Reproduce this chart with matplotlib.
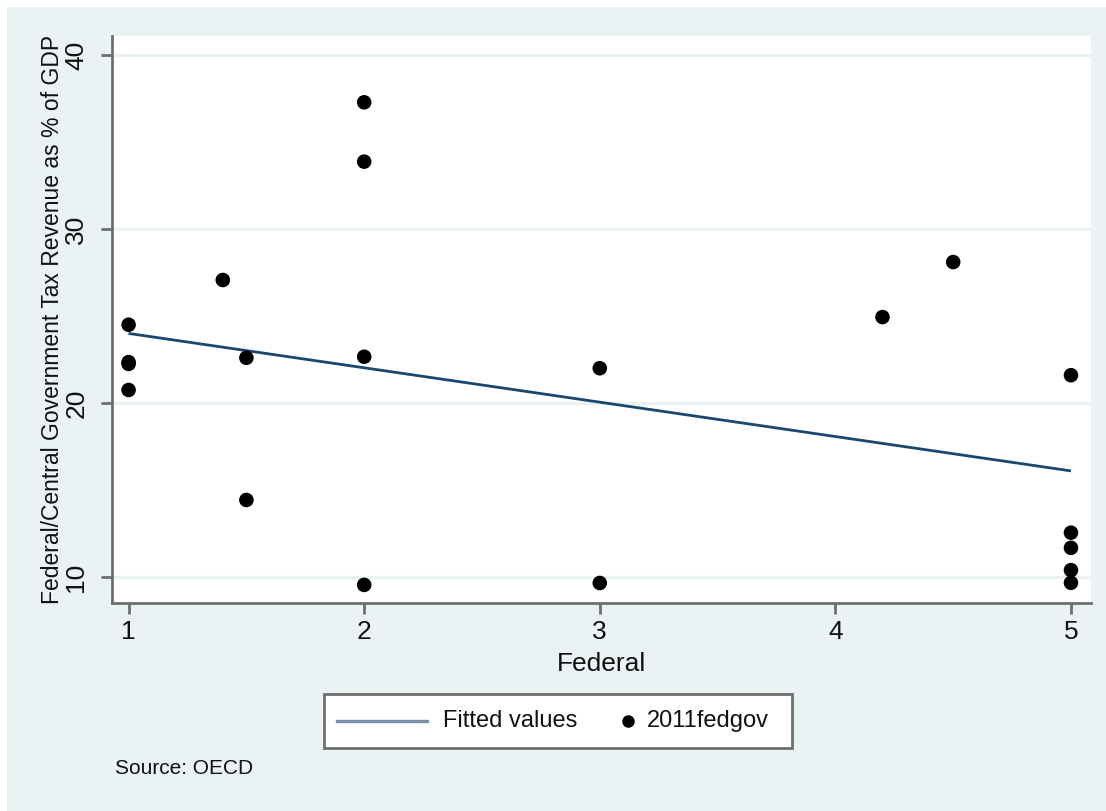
import matplotlib
matplotlib.use("Agg")
import matplotlib.pyplot as plt
from matplotlib.patches import Rectangle
from matplotlib.lines import Line2D

plt.rcParams['font.family'] = ['Liberation Sans', 'DejaVu Sans']

# Federal index vs. federal/central government tax revenue (% of GDP), 2011
federal = [1, 1, 1, 1, 1.4, 1.5, 1.5, 2, 2, 2, 2, 3, 3, 4.2, 4.5, 5, 5, 5, 5, 5]
fedgov = [24.5, 22.35, 22.25, 20.75, 27.07, 22.6, 14.43, 37.28, 33.87, 22.66,
          9.55, 22.0, 9.66, 24.94, 28.1, 21.6, 12.55, 11.68, 10.4, 9.67]

# Fitted values (linear fit) at the ends of the federal range
fit_x = [1, 5]
fit_y = [24.0, 16.1]

x_ticks = [1, 2, 3, 4, 5]
y_ticks = [10, 20, 30, 40]
legend_labels = ['Fitted values', '2011fedgov']

BG = '#EAF2F3'
NAVY = '#1A476F'
AXIS = '#6E6E6E'
TXT = '#111111'

W, H = 1106, 811
fig = plt.figure(figsize=(W / 100, H / 100), dpi=100)
fig.patch.set_facecolor('white')


def fx(px):
    return px / W


def fy(py):
    return 1 - py / H


# light graph region below the thin white strip at the top
fig.add_artist(Rectangle((fx(7), 0), 1 - fx(7), fy(7), transform=fig.transFigure,
                         facecolor=BG, edgecolor='none', zorder=-10))

left, right, top, bottom = 112, 1091, 36, 603
ax = fig.add_axes([fx(left), fy(bottom), (right - left) / W, (bottom - top) / H])
ax.set_zorder(1)
ax.set_facecolor('white')

ax.set_xlim(0.9296, 5.085)
ax.set_ylim(8.51, 41.09)

for y in y_ticks:
    ax.axhline(y, color=BG, lw=2.4, zorder=1)

ax.plot(fit_x, fit_y, color=NAVY, lw=2.0, zorder=3, solid_capstyle='butt')
ax.scatter(federal, fedgov, s=110, color='black', edgecolors='none', zorder=4)

for s in ['top', 'right']:
    ax.spines[s].set_visible(False)
for s in ['left', 'bottom']:
    ax.spines[s].set_color(AXIS)
    ax.spines[s].set_linewidth(2.0)

ax.set_xticks(x_ticks)
ax.set_yticks(y_ticks)
ax.tick_params(axis='both', direction='out', length=8, width=2, color=AXIS,
               labelsize=19, labelcolor=TXT)
ax.tick_params(axis='x', pad=4)
ax.tick_params(axis='y', pad=9)
for lab in ax.get_yticklabels():
    lab.set_rotation(90)
    lab.set_va('center')

ax.set_xlabel('Federal', fontsize=19, color=TXT, labelpad=6)
ax.set_ylabel('Federal/Central Government Tax Revenue as % of GDP',
              fontsize=16.5, color=TXT)
ax.yaxis.set_label_coords((64 - left) / (right - left), 0.5)

# legend box below the plot
fig.add_artist(Rectangle((fx(324), fy(748)), (792 - 324) / W, (748 - 694) / H,
                         transform=fig.transFigure, facecolor='white',
                         edgecolor=AXIS, linewidth=2.0, zorder=2))
ly = fy(721)
fig.add_artist(Line2D([fx(337), fx(427)], [ly, ly], transform=fig.transFigure,
                      color=NAVY, lw=2.4, alpha=0.6, zorder=3))
fig.text(fx(443), ly, legend_labels[0], fontsize=17, color=TXT,
         va='center', ha='left', zorder=3)
fig.add_artist(Line2D([fx(628)], [ly], transform=fig.transFigure, marker='o',
                      markersize=8, color='black', ls='none', zorder=3))
fig.text(fx(647), ly, legend_labels[1], fontsize=17, color=TXT,
         va='center', ha='left', zorder=3)

fig.text(fx(115), fy(768), 'Source: OECD', fontsize=15, color=TXT,
         va='center', ha='left')

fig.savefig('out.png', dpi=100, facecolor=fig.get_facecolor())
